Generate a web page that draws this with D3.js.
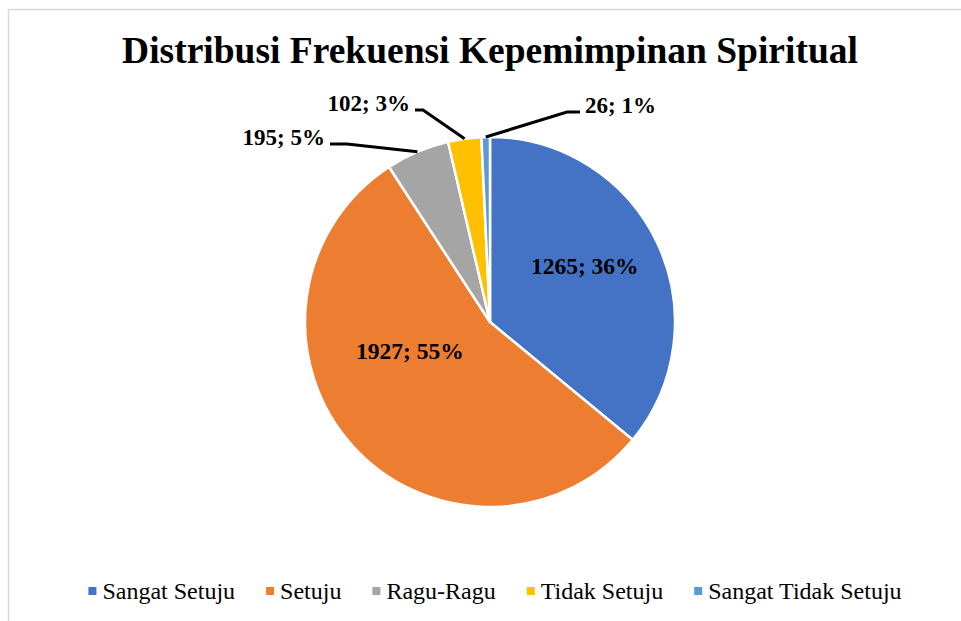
<!DOCTYPE html>
<html>
<head>
<meta charset="utf-8">
<script src="https://cdn.jsdelivr.net/npm/d3@7"></script>
<style>
  html, body { margin: 0; padding: 0; background: #fff; }
  svg { display: block; }
  text { font-family: "Liberation Serif", "DejaVu Serif", serif; }
</style>
</head>
<body>
<svg id="chart" width="961" height="621"></svg>
<script>
// ---- data ----
const title = "Distribusi Frekuensi Kepemimpinan Spiritual";
const categories = ["Sangat Setuju", "Setuju", "Ragu-Ragu", "Tidak Setuju", "Sangat Tidak Setuju"];
const values = [1265, 1927, 195, 102, 26];
const percents = [36, 55, 5, 3, 1];
const colors = ["#4472C4", "#ED7D31", "#A5A5A5", "#FFC000", "#5B9BD5"];

// ---- layout ----
const W = 961, H = 621;
const cx = 490, cy = 322, R = 185;
// inside label placement: [angle (deg, clockwise from top), distance]
const insideLabels = { 0: [59.5, 110], 1: [250.5, 85] };
// outside labels: elbow offset from centre, horizontal run length (signed)
const outsideLabels = {
  2: { elbow: [-143, -178], run: -17 },
  3: { elbow: [-67, -212], run: -8 },
  4: { elbow: [77, -210], run: 13 }
};

const svg = d3.select("#chart");

// outer border
svg.append("rect")
  .attr("x", 8.5).attr("y", 9.5)
  .attr("width", W + 20).attr("height", H + 20)
  .attr("fill", "none").attr("stroke", "#d9d9d9").attr("stroke-width", 1.5);

// title
svg.append("text")
  .attr("x", cx).attr("y", 63)
  .attr("text-anchor", "middle")
  .attr("font-size", 37.5).attr("font-weight", "bold")
  .attr("fill", "#000")
  .text(title);

const data = categories.map((c, i) => ({ cat: c, value: values[i], pct: percents[i], color: colors[i], i }));

const pie = d3.pie().sort(null).value(d => d.value).startAngle(0).endAngle(2 * Math.PI);
const arcs = pie(data);
const arc = d3.arc().innerRadius(0).outerRadius(R);
const edgeArc = d3.arc().innerRadius(R).outerRadius(R);

const g = svg.append("g").attr("transform", `translate(${cx},${cy})`);

g.selectAll("path.slice")
  .data(arcs)
  .join("path")
  .attr("class", "slice")
  .attr("d", arc)
  .attr("fill", d => d.data.color)
  .attr("stroke", "#fff")
  .attr("stroke-width", 2.5)
  .attr("stroke-linejoin", "round");

const labelText = d => `${d.data.value}; ${d.data.pct}%`;

// inside labels
arcs.filter(d => insideLabels[d.data.i]).forEach(d => {
  const [ang, dist] = insideLabels[d.data.i];
  const a = ang * Math.PI / 180;
  g.append("text")
    .attr("x", Math.sin(a) * dist)
    .attr("y", -Math.cos(a) * dist)
    .attr("dy", "0.35em")
    .attr("text-anchor", "middle")
    .attr("font-size", 23.5).attr("font-weight", "bold")
    .attr("fill", "#000")
    .text(labelText(d));
});

// outside labels with leader lines
arcs.filter(d => outsideLabels[d.data.i]).forEach(d => {
  const cfg = outsideLabels[d.data.i];
  const start = edgeArc.centroid(d);
  const elbow = cfg.elbow;
  const end = [elbow[0] + cfg.run, elbow[1]];
  g.append("polyline")
    .attr("points", [start, elbow, end].map(p => p.join(",")).join(" "))
    .attr("fill", "none").attr("stroke", "#000").attr("stroke-width", 3)
    .attr("stroke-linejoin", "miter");
  const left = cfg.run < 0;
  g.append("text")
    .attr("x", end[0] + (left ? -5 : 5))
    .attr("y", end[1] + 1)
    .attr("text-anchor", left ? "end" : "start")
    .attr("font-size", 23).attr("font-weight", "bold")
    .attr("fill", "#000")
    .text(labelText(d));
});

// legend
const legendY = 591, sq = 8, sqGap = 6, itemGap = 31, legendCenter = 495;
const lg = svg.append("g");
const items = lg.selectAll("g.item").data(data).join("g").attr("class", "item");
items.append("rect")
  .attr("width", sq).attr("height", sq)
  .attr("y", legendY - sq / 2)
  .attr("fill", d => d.color);
items.append("text")
  .attr("x", sq + sqGap)
  .attr("y", legendY)
  .attr("dy", "0.35em")
  .attr("font-size", 24)
  .attr("fill", "#000")
  .text(d => d.cat);
let x = 0;
const offsets = [];
items.each(function () {
  offsets.push(x);
  const w = this.getBBox().width;
  x += w + itemGap;
});
const total = x - itemGap;
const startX = legendCenter - total / 2;
items.attr("transform", (d, i) => `translate(${startX + offsets[i]},0)`);
</script>
</body>
</html>
